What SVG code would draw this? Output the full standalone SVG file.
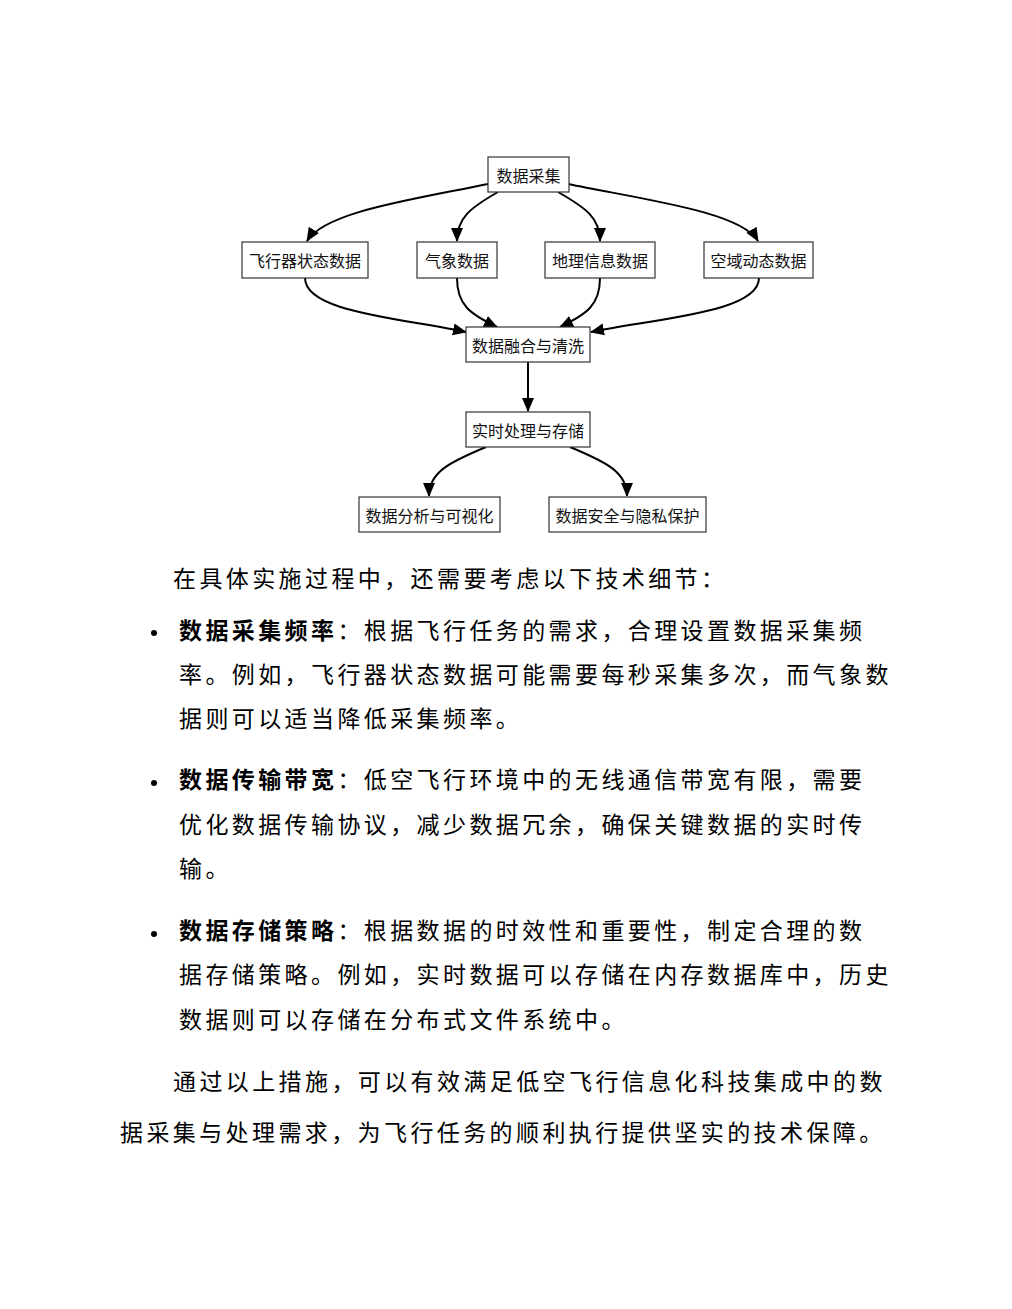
<svg xmlns="http://www.w3.org/2000/svg" width="1012" height="1309" viewBox="0 0 1012 1309">
<style>
.node rect{fill:#fff;stroke:#333;stroke-width:1.2}
.node text{font-family:"Noto Sans CJK SC","Noto Sans",sans-serif;font-size:16px;fill:#111;text-anchor:middle;dominant-baseline:central}
.edges path{fill:none;stroke:#000;stroke-width:2;marker-end:url(#arr)}
.body{font-family:"Noto Sans CJK SC","Noto Sans",sans-serif;font-size:23px;fill:#000;letter-spacing:3.4px}
.b{font-weight:bold}
</style>
<defs>
<marker id="arr" markerWidth="14" markerHeight="14" viewBox="0 0 14 14" refX="13" refY="7" orient="auto" markerUnits="userSpaceOnUse">
<path d="M0,1 L14,7 L0,13 Z" fill="#000"/>
</marker>
</defs>
<rect width="1012" height="1309" fill="#fff"/>
<g class="edges">
<path d="M488,184 C410,200 325,212 307,241"/>
<path d="M498,192 C470,208 457,218 457,241"/>
<path d="M558,192 C586,208 600,218 600,241"/>
<path d="M568,184 C646,200 741,212 758,241"/>
<path d="M305,278 C305,312 400,318 466,332"/>
<path d="M457,278 C457,305 470,314 497,327"/>
<path d="M600,278 C600,305 587,314 560,327"/>
<path d="M759,278 C759,312 660,318 591,332"/>
<path d="M528,362 L528,411"/>
<path d="M486,447 C450,462 429,472 429,496"/>
<path d="M570,447 C606,462 627,472 627,496"/>
</g>
<g id="n_collect" class="node"><rect x="488" y="157" width="81" height="35"/><text x="528.5" y="174.5">数据采集</text></g>
<g id="n_aircraft" class="node"><rect x="242" y="242" width="126" height="36"/><text x="305" y="260">飞行器状态数据</text></g>
<g id="n_weather" class="node"><rect x="417" y="242" width="80" height="36"/><text x="457" y="260">气象数据</text></g>
<g id="n_geo" class="node"><rect x="545" y="242" width="110" height="36"/><text x="600" y="260">地理信息数据</text></g>
<g id="n_airspace" class="node"><rect x="704" y="242" width="109" height="36"/><text x="758.5" y="260">空域动态数据</text></g>
<g id="n_fusion" class="node"><rect x="466" y="327" width="124" height="35"/><text x="528" y="344.5">数据融合与清洗</text></g>
<g id="n_realtime" class="node"><rect x="466" y="412" width="124" height="35"/><text x="528" y="429.5">实时处理与存储</text></g>
<g id="n_analysis" class="node"><rect x="359" y="497" width="141" height="35"/><text x="429.5" y="514.5">数据分析与可视化</text></g>
<g id="n_security" class="node"><rect x="549" y="497" width="157" height="35"/><text x="627.5" y="514.5">数据安全与隐私保护</text></g>
<g id="text">
<text class="body" x="173" y="587">在具体实施过程中，还需要考虑以下技术细节：</text>
<circle cx="154" cy="633" r="3" fill="#000"/>
<text class="body" x="179" y="639"><tspan class="b">数据采集频率</tspan>：根据飞行任务的需求，合理设置数据采集频</text>
<text class="body" x="179" y="683">率。例如，飞行器状态数据可能需要每秒采集多次，而气象数</text>
<text class="body" x="179" y="727">据则可以适当降低采集频率。</text>
<circle cx="154" cy="783" r="3" fill="#000"/>
<text class="body" x="179" y="788"><tspan class="b">数据传输带宽</tspan>：低空飞行环境中的无线通信带宽有限，需要</text>
<text class="body" x="179" y="833">优化数据传输协议，减少数据冗余，确保关键数据的实时传</text>
<text class="body" x="179" y="877">输。</text>
<circle cx="154" cy="934" r="3" fill="#000"/>
<text class="body" x="179" y="939"><tspan class="b">数据存储策略</tspan>：根据数据的时效性和重要性，制定合理的数</text>
<text class="body" x="179" y="983">据存储策略。例如，实时数据可以存储在内存数据库中，历史</text>
<text class="body" x="179" y="1028">数据则可以存储在分布式文件系统中。</text>
<text class="body" x="173" y="1090">通过以上措施，可以有效满足低空飞行信息化科技集成中的数</text>
<text class="body" x="120" y="1141">据采集与处理需求，为飞行任务的顺利执行提供坚实的技术保障。</text>
</g>
</svg>
